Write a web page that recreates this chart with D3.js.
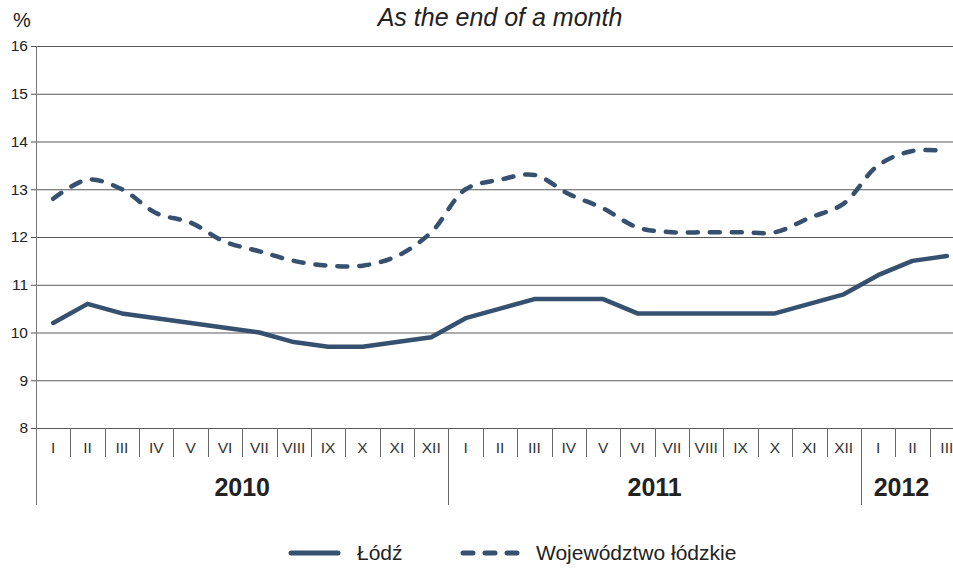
<!DOCTYPE html>
<html>
<head>
<meta charset="utf-8">
<script src="https://cdn.jsdelivr.net/npm/d3@7"></script>
<style>
  body { margin: 0; background: #fff; }
  text { font-family: "Liberation Sans", Arial, sans-serif; }
</style>
</head>
<body>
<div id="chart"></div>
<script>
'use strict';

var months = ['I','II','III','IV','V','VI','VII','VIII','IX','X','XI','XII',
              'I','II','III','IV','V','VI','VII','VIII','IX','X','XI','XII',
              'I','II','III'];
var years = [{label: '2010', count: 12}, {label: '2011', count: 12}, {label: '2012', count: 3}];
var lodz = [10.2,10.6,10.4,10.3,10.2,10.1,10.0,9.8,9.7,9.7,9.8,9.9,
            10.3,10.5,10.7,10.7,10.7,10.4,10.4,10.4,10.4,10.4,10.6,10.8,
            11.2,11.5,11.6];
var wojewodztwo = [12.8,13.2,13.0,12.5,12.3,11.9,11.7,11.5,11.4,11.4,11.6,12.1,
                   13.0,13.2,13.3,12.9,12.6,12.2,12.1,12.1,12.1,12.1,12.4,12.7,
                   13.5,13.8,13.8];
var yTicks = [8,9,10,11,12,13,14,15,16];

var W = 953, H = 568;
var margin = {top: 46, left: 36},
    plotRight = 964,
    plotBottom = 428;
var color = '#36506f';

var svg = d3.select('#chart').append('svg')
    .attr('width', W).attr('height', H);

var x = d3.scaleBand()
    .domain(d3.range(months.length))
    .range([margin.left, plotRight])
    .padding(0);

var y = d3.scaleLinear()
    .domain([8, 16])
    .range([plotBottom, margin.top]);

// title
svg.append('text')
    .attr('x', 500).attr('y', 26)
    .attr('text-anchor', 'middle')
    .style('font-style', 'italic')
    .style('font-size', '25px')
    .attr('fill', '#222')
    .text('As the end of a month');

svg.append('text')
    .attr('x', 13).attr('y', 27)
    .style('font-size', '20px')
    .attr('fill', '#222')
    .text('%');

// y axis ticks and labels
var yAxis = d3.axisLeft(y).tickValues(yTicks).tickSize(5).tickPadding(3);
var gy = svg.append('g')
    .attr('transform', 'translate(' + margin.left + ',0)')
    .call(yAxis);
gy.select('.domain').remove();
gy.selectAll('.tick line').attr('stroke', '#555');
gy.selectAll('.tick text')
    .style('font-size', '15.5px')
    .attr('fill', '#222')
    .attr('font-family', '"Liberation Sans", Arial, sans-serif');

// gridlines
svg.append('g').selectAll('line')
    .data(yTicks)
  .enter().append('line')
    .attr('x1', margin.left).attr('x2', W)
    .attr('y1', function(d) { return y(d) + 0.5; })
    .attr('y2', function(d) { return y(d) + 0.5; })
    .attr('stroke', '#5a5a5a')
    .attr('stroke-width', 1);

// left vertical axis line, runs down through the category area
svg.append('line')
    .attr('x1', margin.left + 0.5).attr('x2', margin.left + 0.5)
    .attr('y1', margin.top).attr('y2', 505)
    .attr('stroke', '#777');

// month separators and labels
var monthG = svg.append('g');
monthG.selectAll('line')
    .data(d3.range(1, months.length))
  .enter().append('line')
    .attr('x1', function(i) { return Math.round(x(i)) + 0.5; })
    .attr('x2', function(i) { return Math.round(x(i)) + 0.5; })
    .attr('y1', plotBottom)
    .attr('y2', function(i) { return (i % 12 === 0) ? 505 : 457; })
    .attr('stroke', '#666');

monthG.selectAll('text')
    .data(months)
  .enter().append('text')
    .attr('x', function(d, i) { return x(i) + x.bandwidth() / 2; })
    .attr('y', 453)
    .attr('text-anchor', 'middle')
    .style('font-size', '15.5px')
    .attr('fill', '#333')
    .text(function(d) { return d; });

// year labels
var start = 0;
years.forEach(function(yr) {
  var x0 = x(start), x1 = x(start + yr.count - 1) + x.bandwidth();
  svg.append('text')
      .attr('x', (x0 + x1) / 2 + (yr.count < 12 ? -11 : 0))
      .attr('y', 496)
      .attr('text-anchor', 'middle')
      .style('font-size', '25px')
      .style('font-weight', 'bold')
      .attr('fill', '#222')
      .text(yr.label);
  start += yr.count;
});

// lines
var cx = function(d, i) { return x(i) + x.bandwidth() / 2; };

svg.append('path')
    .datum(lodz)
    .attr('fill', 'none')
    .attr('stroke', color)
    .attr('stroke-width', 4.5)
    .attr('stroke-linejoin', 'round')
    .attr('stroke-linecap', 'round')
    .attr('d', d3.line().x(cx).y(function(d) { return y(d); }));

svg.append('path')
    .datum(wojewodztwo)
    .attr('fill', 'none')
    .attr('stroke', color)
    .attr('stroke-width', 4.5)
    .attr('stroke-dasharray', '10,12')
    .attr('stroke-linecap', 'round')
    .attr('d', d3.line().x(cx).y(function(d) { return y(d); }).curve(d3.curveCatmullRom.alpha(0.5)));

// legend
var legend = svg.append('g').attr('transform', 'translate(0,553)');
legend.append('line')
    .attr('x1', 291).attr('x2', 338).attr('y1', 0).attr('y2', 0)
    .attr('stroke', color).attr('stroke-width', 5).attr('stroke-linecap', 'round');
legend.append('text')
    .attr('x', 357).attr('y', 7)
    .style('font-size', '21px').attr('fill', '#222')
    .text('Łódź');
legend.append('line')
    .attr('x1', 463).attr('x2', 517).attr('y1', 0).attr('y2', 0)
    .attr('stroke', color).attr('stroke-width', 5)
    .attr('stroke-dasharray', '10,12').attr('stroke-linecap', 'round');
legend.append('text')
    .attr('x', 536).attr('y', 7)
    .style('font-size', '21px').attr('fill', '#222')
    .text('Województwo łódzkie');
</script>
</body>
</html>
